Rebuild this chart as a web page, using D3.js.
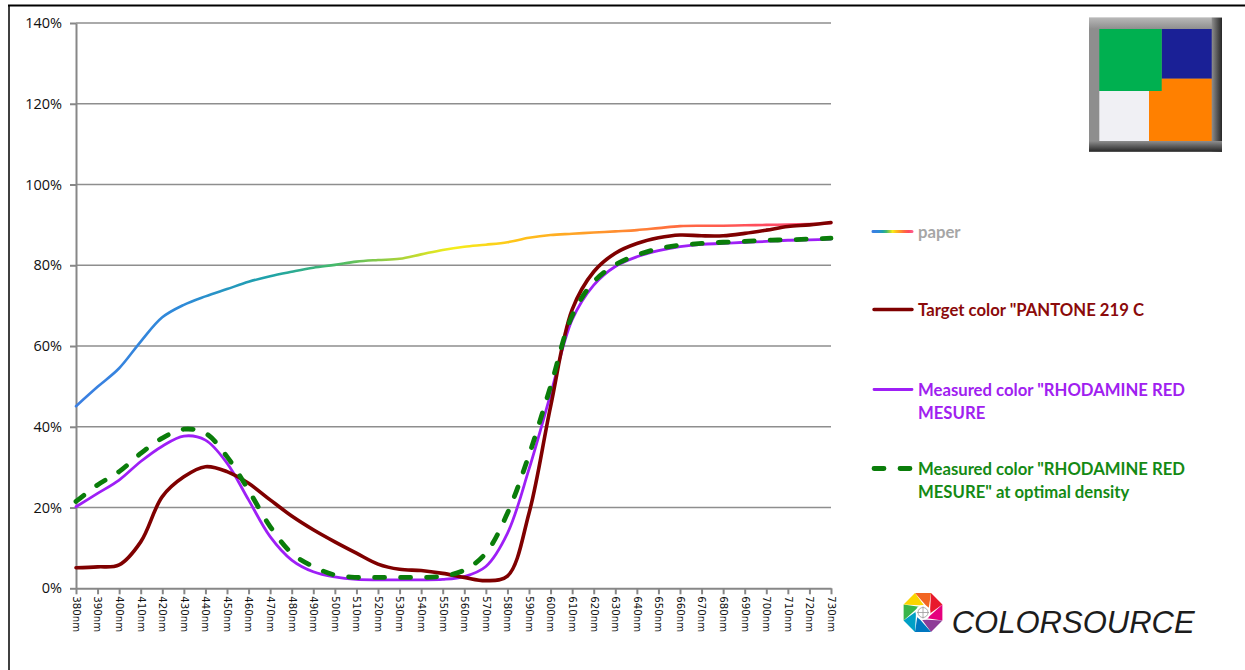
<!DOCTYPE html>
<html>
<head>
<meta charset="utf-8">
<script src="https://cdn.jsdelivr.net/npm/d3@7"></script>
<style>
body { margin: 0; background: #fff; }
svg { display: block; }
</style>
</head>
<body>
<div id="chart"></div>
<script>
// wavelengths (nm) and reflectance (%)
const wavelengths = [380, 390, 400, 410, 420, 430, 440, 450, 460, 470, 480, 490, 500, 510, 520, 530, 540, 550,
    560, 570, 580, 590, 600, 610, 620, 630, 640, 650, 660, 670, 680, 690, 700, 710, 720, 730];
const paper = [45.1, 49.9, 54.5, 61.1, 67.1, 70.2, 72.3, 74.1, 75.9, 77.3, 78.4, 79.4, 80.1, 80.9, 81.3, 81.6, 82.7, 83.8,
    84.6, 85.1, 85.7, 86.8, 87.5, 87.8, 88.1, 88.4, 88.7, 89.2, 89.7, 89.8, 89.8, 89.9, 90.0, 90.1, 90.2, 90.4];
const target = [5.1, 5.3, 5.8, 11.5, 22.7, 27.6, 30.1, 28.9, 26.0, 21.9, 17.9, 14.5, 11.5, 8.7, 6.0, 4.7, 4.4, 3.7,
    2.7, 1.9, 3.0, 18.6, 45.0, 69.0, 78.4, 83.0, 85.4, 86.8, 87.5, 87.3, 87.3, 87.9, 88.7, 89.6, 90.0, 90.6];
const measured = [20.2, 23.5, 26.8, 31.4, 35.2, 37.7, 36.7, 31.0, 21.9, 12.8, 7.0, 4.1, 2.8, 2.2, 2.1, 2.1, 2.1, 2.2,
    2.9, 5.4, 13.6, 29.5, 48.0, 66.5, 75.1, 79.7, 82.1, 83.6, 84.6, 85.2, 85.4, 85.7, 85.9, 86.2, 86.3, 86.5];
const optimal = [21.5, 25.6, 28.9, 33.4, 37.2, 39.4, 38.4, 32.6, 24.3, 15.3, 8.7, 5.4, 3.3, 2.7, 2.7, 2.7, 2.7, 3.0,
    4.5, 8.7, 18.6, 33.0, 50.0, 67.5, 75.9, 80.1, 82.5, 84.1, 85.0, 85.4, 85.7, 85.9, 86.2, 86.3, 86.5, 86.7];
const yTicks = [0, 20, 40, 60, 80, 100, 120, 140];

const legendItems = [
    { lines: ["paper"], color: "#a6a6a6", stroke: "url(#paperLegend)", dash: null, width: 3 },
    { lines: ["Target color \"PANTONE 219 C"], color: "#8b0a0a", stroke: "#7f0000", dash: null, width: 3.5 },
    { lines: ["Measured color \"RHODAMINE RED", "MESURE"], color: "#a020f0", stroke: "#9e1ff6", dash: null, width: 2.8 },
    { lines: ["Measured color \"RHODAMINE RED", "MESURE\" at optimal density"], color: "#148a14", stroke: "#0a7d0a", dash: "10,16", width: 4.8 }
];
const paperStops = [
    [380, "#3b7fe2"], [430, "#2e8ad8"], [470, "#1ea3a8"], [500, "#45b96a"], [530, "#a8d23a"], [555, "#f5ee1a"],
    [585, "#ffc21a"], [620, "#ff9a2a"], [660, "#ff6a40"], [700, "#ff4a60"], [730, "#ff5a88"]
];
const swatches = [
    { x: 1161.7, y: 29, w: 50, h: 49.7, c: "#1a2096" },
    { x: 1149, y: 78.7, w: 62.7, h: 62.3, c: "#ff8000" },
    { x: 1099.3, y: 91, w: 49.7, h: 50, c: "#f0f0f4" },
    { x: 1099.3, y: 29, w: 62.4, h: 62, c: "#00b050" }
];
const logoColors = ["#f26522", "#e8192c", "#e6007e", "#8e3c97", "#0077c0", "#00a0c6", "#39b54a", "#fbd500"];

const W = 1245, H = 670;
const svg = d3.select("#chart").append("svg").attr("width", W).attr("height", H);
const defs = svg.append("defs");

// frame
svg.append("line").attr("x1", 8).attr("x2", W).attr("y1", 5.5).attr("y2", 5.5).attr("stroke", "#000").attr("stroke-width", 2);
svg.append("line").attr("x1", 9).attr("x2", 9).attr("y1", 5).attr("y2", H).attr("stroke", "#000").attr("stroke-width", 1.5);

const x = d3.scalePoint().domain(wavelengths).range([76, 831]);
const y = d3.scaleLinear().domain([0, 140]).range([588.3, 23]);

// gradients for the paper line
const g1 = defs.append("linearGradient").attr("id", "paperGrad").attr("gradientUnits", "userSpaceOnUse")
    .attr("x1", x(380)).attr("x2", x(730)).attr("y1", 0).attr("y2", 0);
paperStops.forEach(s => g1.append("stop").attr("offset", (s[0] - 380) / 350).attr("stop-color", s[1]));
const g2 = defs.append("linearGradient").attr("id", "paperLegend");
paperStops.forEach(s => g2.append("stop").attr("offset", (s[0] - 380) / 350).attr("stop-color", s[1]));

// grid
svg.append("g").selectAll("line").data(yTicks.filter(d => d > 0)).enter().append("line")
    .attr("x1", 76).attr("x2", 831).attr("y1", d => y(d)).attr("y2", d => y(d))
    .attr("stroke", "#8e8e8e").attr("stroke-width", 1.6);

// axes
const yAxis = svg.append("g").attr("transform", "translate(76,0)")
    .call(d3.axisLeft(y).tickValues(yTicks).tickSize(6).tickSizeOuter(0).tickPadding(8).tickFormat(d => d + "%"));
yAxis.selectAll("text").attr("font-family", "'Open Sans', sans-serif").attr("font-size", 14.5).attr("fill", "#111");

const xAxis = svg.append("g").attr("transform", "translate(0," + y(0) + ")")
    .call(d3.axisBottom(x).tickSize(6).tickSizeOuter(0).tickFormat(d => d + "nm"));
xAxis.selectAll("text")
    .attr("transform", "rotate(90)")
    .attr("x", 8).attr("y", 0).attr("dy", "0.35em")
    .style("text-anchor", "start")
    .attr("font-family", "'DejaVu Sans', sans-serif").attr("font-size", 10.2).attr("fill", "#111");
svg.selectAll(".domain, .tick line").attr("stroke", "#878787").attr("stroke-width", 2);

// curves
const line = d3.line().x((d, i) => x(wavelengths[i])).y(d => y(d)).curve(d3.curveCatmullRom.alpha(0.5));
const series = [
    { data: paper, stroke: "url(#paperGrad)", width: 2.6, dash: null },
    { data: measured, stroke: "#9e1ff6", width: 2.8, dash: null },
    { data: target, stroke: "#7f0000", width: 3.6, dash: null },
    { data: optimal, stroke: "#0a7d0a", width: 4.8, dash: "10,16" }
];
svg.append("g").selectAll("path").data(series).enter().append("path")
    .attr("d", d => line(d.data))
    .attr("fill", "none")
    .attr("stroke", d => d.stroke)
    .attr("stroke-width", d => d.width)
    .attr("stroke-linecap", "round")
    .attr("stroke-dasharray", d => d.dash);

// legend
const legendY = [231.5, 309.5, 389.5, 468.5];
const lg = svg.append("g");
legendItems.forEach((it, i) => {
    const g = lg.append("g").attr("transform", "translate(0," + legendY[i] + ")");
    g.append("line").attr("x1", i === 0 ? 873 : 874).attr("x2", 912).attr("y1", 0).attr("y2", 0.01)
        .attr("stroke", it.stroke).attr("stroke-width", it.width)
        .attr("stroke-linecap", "round").attr("stroke-dasharray", it.dash);
    it.lines.forEach((t, j) => {
        g.append("text").attr("x", 918).attr("y", 6.5 + j * 22.5).text(t)
            .attr("font-family", "Lato, sans-serif").attr("font-weight", "bold").attr("font-size", 16.7)
            .attr("fill", it.color);
    });
});

// colour swatch box
const fg = defs.append("linearGradient").attr("id", "frameR");
fg.append("stop").attr("offset", 0).attr("stop-color", "#8e8e8e");
fg.append("stop").attr("offset", 1).attr("stop-color", "#262626");
const fb = defs.append("linearGradient").attr("id", "frameB").attr("x1", 0).attr("x2", 0).attr("y1", 0).attr("y2", 1);
fb.append("stop").attr("offset", 0).attr("stop-color", "#8e8e8e");
fb.append("stop").attr("offset", 1).attr("stop-color", "#262626");
const ft = defs.append("linearGradient").attr("id", "frameT").attr("x1", 0).attr("x2", 0).attr("y1", 0).attr("y2", 1);
ft.append("stop").attr("offset", 0).attr("stop-color", "#b8b8b8");
ft.append("stop").attr("offset", 1).attr("stop-color", "#8e8e8e");
const box = svg.append("g");
box.append("rect").attr("x", 1089).attr("y", 17.7).attr("width", 133).attr("height", 134).attr("fill", "#8e8e8e");
box.append("rect").attr("x", 1089).attr("y", 17.7).attr("width", 133).attr("height", 11.3).attr("fill", "url(#frameT)");
box.append("rect").attr("x", 1211.7).attr("y", 17.7).attr("width", 10.3).attr("height", 134).attr("fill", "url(#frameR)");
box.append("rect").attr("x", 1089).attr("y", 141).attr("width", 133).attr("height", 10.7).attr("fill", "url(#frameB)");
box.selectAll(".sw").data(swatches).enter().append("rect").attr("class", "sw")
    .attr("x", d => d.x).attr("y", d => d.y).attr("width", d => d.w).attr("height", d => d.h).attr("fill", d => d.c);

// COLORSOURCE logo
const logo = svg.append("g").attr("transform", "translate(923,612.5)");
const R = 21;
logoColors.forEach((c, i) => {
    const a0 = (i * 45 - 112.5) * Math.PI / 180, a1 = ((i + 1) * 45 - 112.5) * Math.PI / 180;
    const a2 = a1 + 0.55;
    logo.append("path")
        .attr("d", "M" + [R * Math.cos(a0), R * Math.sin(a0)] + "L" + [R * Math.cos(a1), R * Math.sin(a1)] +
            "L" + [7 * Math.cos(a2), 7 * Math.sin(a2)] + "Z")
        .attr("fill", c);
});
logo.append("circle").attr("r", 7.5).attr("fill", "#fff");
logo.append("circle").attr("r", 5).attr("fill", "none").attr("stroke", "#9a9a9a").attr("stroke-width", 0.8);
logo.append("path").attr("d", "M-6,0H6M0,-6V6").attr("stroke", "#9a9a9a").attr("stroke-width", 0.8);
svg.append("text").attr("x", 951.7).attr("y", 632.7).text("COLORSOURCE")
    .attr("font-family", "'Liberation Sans', sans-serif").attr("font-style", "italic").attr("font-size", 31)
    .attr("textLength", 243).attr("lengthAdjust", "spacingAndGlyphs").attr("fill", "#1c1c1c");
</script>
</body>
</html>
